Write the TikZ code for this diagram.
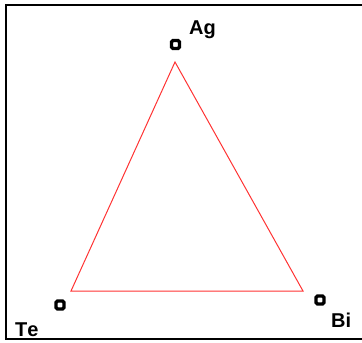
\documentclass[tikz,border=0pt]{standalone}
\usepackage{fontspec}
\setmainfont{Liberation Sans}[Kerning=Off]
\begin{document}
\begin{tikzpicture}[x=1pt,y=-1pt,
  marker/.style={draw=black,line width=3.4pt,fill=white,minimum size=8pt,inner sep=0pt,rounded corners=1.5pt},
  elabel/.style={font=\bfseries\fontsize{20}{20}\selectfont,inner sep=0pt,anchor=base west},
  edge/.style={draw=red!80!white,line width=1pt}]
\useasboundingbox (0,0) rectangle (362,343);
\draw[line width=2.5pt] (364,5) -- (6,5) -- (6,339) -- (364,339);
\coordinate (top) at (175,62);
\coordinate (bl) at (71,291);
\coordinate (br) at (303,291);
\draw[edge] (top) -- (br) -- (bl) -- cycle;
\node[marker] (mAg) at (175.5,44.5) {};
\node[marker] (mTe) at (60,305) {};
\node[marker] (mBi) at (320,300) {};
\node[elabel] (Ag) at (189,34.5) {Ag};
\node[elabel] (Te) at (15,336) {Te};
\node[elabel] (Bi) at (331,327) {Bi};
\end{tikzpicture}
\end{document}
